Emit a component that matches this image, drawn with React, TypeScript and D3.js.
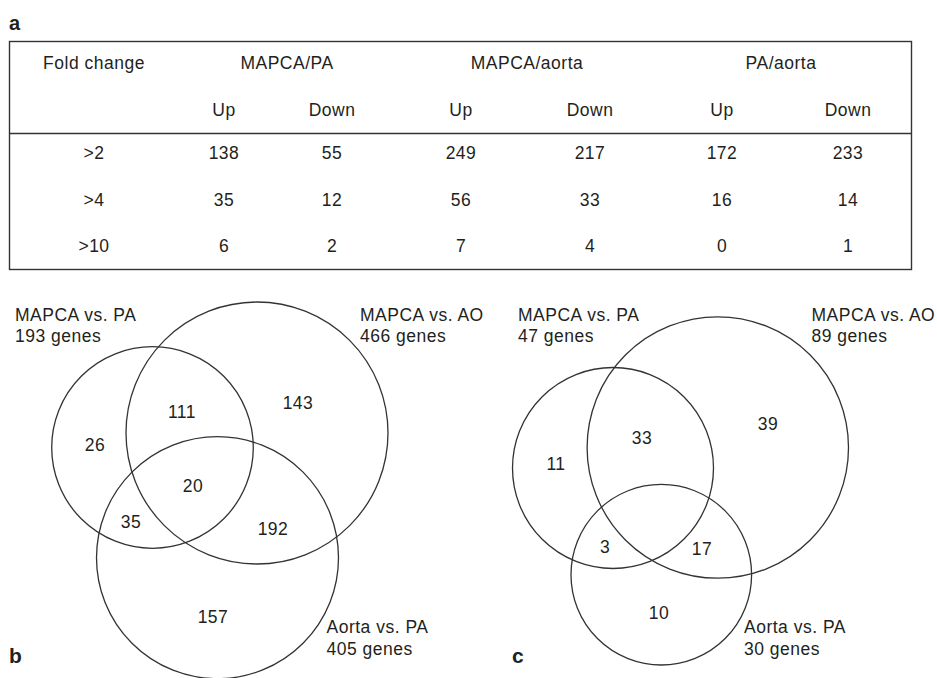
import * as d3 from 'd3';
import React, { useEffect, useRef } from 'react';

// table a: fold change counts
const foldLabels = ['>2', '>4', '>10'];
const groups = ['MAPCA/PA', 'MAPCA/aorta', 'PA/aorta'];
const directions = ['Up', 'Down'];
const tableValues = [
    [138, 55, 249, 217, 172, 233],
    [35, 12, 56, 33, 16, 14],
    [6, 2, 7, 4, 0, 1],
];

// venn b (fold change > 2) and c (fold change > 4)
const setNames = ['MAPCA vs. PA', 'MAPCA vs. AO', 'Aorta vs. PA'];
const totalsB = [193, 466, 405];
const totalsC = [47, 89, 30];
// regions: only PA-side, only AO, PA&AO, all three, PA&Aorta, AO&Aorta, only Aorta
const regionsB = [26, 143, 111, 20, 35, 192, 157];
const regionsC = [11, 39, 33, null, 3, 17, 10];

const FONT = '"Liberation Sans", Arial, Helvetica, sans-serif';
const INK = '#231f20';
const TEXT_SIZE = 17.5;
const TRACKING = 0.5;

const App: React.FC = () => {
    const svgRef = useRef<SVGSVGElement | null>(null);

    useEffect(() => {
        const svg = d3.select(svgRef.current);
        svg.selectAll('*').remove();
        svg.attr('width', 937).attr('height', 678).style('font-family', FONT);

        // ---------- panel a ----------
        const box = { left: 9.5, right: 911.5, top: 41.5, bottom: 269.5, sep: 133.5 };
        const colX = [94, 224, 332, 461, 590, 722, 848];
        const groupX = [287, 527, 781];
        const rowY = d3.scalePoint<string>().domain(foldLabels).range([159, 252]);

        svg.append('text')
            .attr('x', 9).attr('y', 30)
            .attr('font-size', 20).attr('font-weight', 'bold').attr('fill', INK)
            .text('a');

        svg.append('rect')
            .attr('x', box.left).attr('y', box.top)
            .attr('width', box.right - box.left).attr('height', box.bottom - box.top)
            .attr('fill', 'none').attr('stroke', '#333').attr('stroke-width', 1.4);
        svg.append('line')
            .attr('x1', box.left).attr('x2', box.right)
            .attr('y1', box.sep).attr('y2', box.sep)
            .attr('stroke', '#333').attr('stroke-width', 1.4);

        const t = svg.append('g')
            .attr('font-size', TEXT_SIZE).attr('letter-spacing', TRACKING)
            .attr('fill', INK).attr('text-anchor', 'middle');

        t.append('text').attr('x', colX[0]).attr('y', 69.3).text('Fold change');
        t.selectAll('.grp').data(groups).enter().append('text')
            .attr('x', (_, i) => groupX[i]).attr('y', 69.3).text(d => d);
        t.selectAll('.dir').data(d3.range(6)).enter().append('text')
            .attr('x', i => colX[i + 1]).attr('y', 116).text(i => directions[i % 2]);

        foldLabels.forEach((f, r) => {
            t.append('text').attr('x', colX[0]).attr('y', rowY(f)!).text(f);
            t.selectAll(`.v${r}`).data(tableValues[r]).enter().append('text')
                .attr('x', (_, i) => colX[i + 1]).attr('y', rowY(f)!).text(d => d);
        });

        // ---------- venn panels ----------
        const drawVenn = (
            letter: string,
            letterPos: [number, number],
            circles: [number, number, number][],
            totals: number[],
            regions: (number | null)[],
            regionPos: [number, number][],
            labelPos: [number, number][],
        ) => {
            const g = svg.append('g');
            g.selectAll('circle').data(circles).enter().append('circle')
                .attr('cx', d => d[0]).attr('cy', d => d[1]).attr('r', d => d[2])
                .attr('fill', 'none').attr('stroke', '#333').attr('stroke-width', 1.3);

            g.selectAll('.num').data(regions.map((v, i) => ({ v, p: regionPos[i] })).filter(d => d.v !== null))
                .enter().append('text')
                .attr('x', d => d.p[0]).attr('y', d => d.p[1])
                .attr('text-anchor', 'middle').attr('font-size', TEXT_SIZE)
                .attr('letter-spacing', TRACKING).attr('fill', INK)
                .text(d => String(d.v));

            setNames.forEach((name, i) => {
                const lab = g.append('text')
                    .attr('font-size', TEXT_SIZE).attr('letter-spacing', TRACKING).attr('fill', INK)
                    .attr('x', labelPos[i][0]).attr('y', labelPos[i][1]);
                lab.append('tspan').attr('x', labelPos[i][0]).text(name);
                lab.append('tspan').attr('x', labelPos[i][0]).attr('dy', 21.5).text(`${totals[i]} genes`);
            });

            g.append('text')
                .attr('x', letterPos[0]).attr('y', letterPos[1])
                .attr('font-size', 21).attr('font-weight', 'bold').attr('fill', INK)
                .text(letter);
        };

        drawVenn(
            'b', [9, 663],
            [[152.5, 447.5, 100.8], [257, 433, 131], [217.5, 557.7, 121]],
            totalsB, regionsB,
            [[95, 451], [298, 409], [182, 418], [193, 492], [131, 528], [273, 535], [213, 623]],
            [[15, 320.5], [360, 320.5], [326.5, 633]],
        );

        drawVenn(
            'c', [512, 663],
            [[613, 468, 100.5], [717.8, 447.5, 130.7], [661.3, 574.7, 90.3]],
            totalsC, regionsC,
            [[556, 470], [768, 430], [642, 444], [0, 0], [605, 553], [702, 555], [659, 619]],
            [[518, 320.5], [811.5, 320.5], [744, 633]],
        );
    }, []);

    return (
        <div style={{ position: 'absolute', left: 0, top: 0 }}>
            <svg ref={svgRef} style={{ display: 'block' }}></svg>
        </div>
    );
};

export default App;
